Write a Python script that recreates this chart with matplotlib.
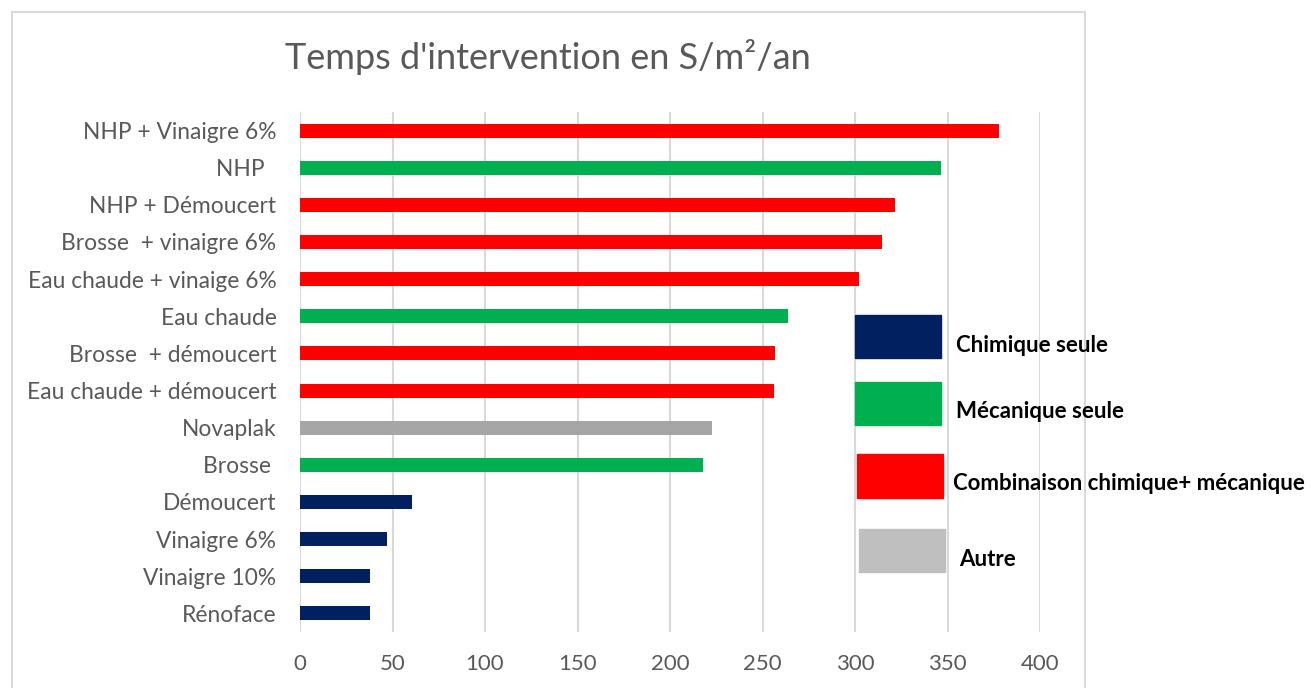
import matplotlib.pyplot as plt
from matplotlib.patches import Rectangle

# data, top to bottom as in the chart
categories = ["NHP + Vinaigre 6%", "NHP  ", "NHP + Démoucert", "Brosse  + vinaigre 6%",
              "Eau chaude + vinaige 6%", "Eau chaude", "Brosse  + démoucert",
              "Eau chaude + démoucert", "Novaplak", "Brosse ", "Démoucert",
              "Vinaigre 6%", "Vinaigre 10%", "Rénoface"]
values = [378, 346.5, 321.5, 314.5, 302, 264, 257, 256, 222.5, 218, 60.5, 47, 38, 38]
groups = ["combi", "meca", "combi", "combi", "combi", "meca", "combi", "combi",
          "autre", "meca", "chim", "chim", "chim", "chim"]

colors = {"chim": "#002060", "meca": "#00B050", "combi": "#FF0000", "autre": "#A6A6A6"}
legend_labels = ["Chimique seule", "Mécanique seule", "Combinaison chimique+ mécanique", "Autre"]
legend_colors = ["#002060", "#00B050", "#FF0000", "#BFBFBF"]

plt.rcParams['font.family'] = ['Lato', 'DejaVu Sans']

W, H = 1311, 688
fig = plt.figure(figsize=(W / 100, H / 100), dpi=100)

# outer chart frame
fig.patches.append(Rectangle((12 / W, -0.05), (1085 - 12) / W, (H - 12) / H + 0.05,
                             transform=fig.transFigure, fill=False,
                             edgecolor="#D9D9D9", linewidth=1.5))

ax = fig.add_axes([300 / W, 56 / H, 740 / W, 520 / H])
ypos = list(range(len(categories)))
ax.barh(ypos, values, height=0.38, color=[colors[g] for g in groups], zorder=3)
ax.set_ylim(len(categories) - 0.5, -0.5)
ax.set_xlim(0, 400)
ax.set_xticks(range(0, 401, 50))
ax.set_yticks(ypos)
ax.set_yticklabels(categories)

for s in ax.spines.values():
    s.set_visible(False)
ax.grid(axis="x", color="#D9D9D9", linewidth=1.5, zorder=0)
ax.tick_params(axis="both", length=0, labelcolor="#595959")
ax.tick_params(axis="y", pad=17, labelsize=16.4)
ax.tick_params(axis="x", pad=16, labelsize=16)

fig.text(548 / W, 1 - 57 / H, "Temps d'intervention en S/m²/an", ha="center", va="center",
         fontsize=26, color="#595959")

# manual legend boxes
boxes = [(855, 315, 86, 43), (855, 382, 86, 43), (857, 454, 86, 44), (859, 529, 86, 43)]
texts = [(956, 345), (956, 412), (953, 484), (959, 559)]
for (x, y, w, h), (tx, ty), lab, c in zip(boxes, texts, legend_labels, legend_colors):
    fig.patches.append(Rectangle((x / W, 1 - (y + h) / H), w / W, h / H,
                                 transform=fig.transFigure, color=c, zorder=5))
    fig.text(tx / W, 1 - ty / H, lab, ha="left", va="center", fontsize=16,
             fontweight="bold", color="black")

fig.savefig("out.png", dpi=100)
